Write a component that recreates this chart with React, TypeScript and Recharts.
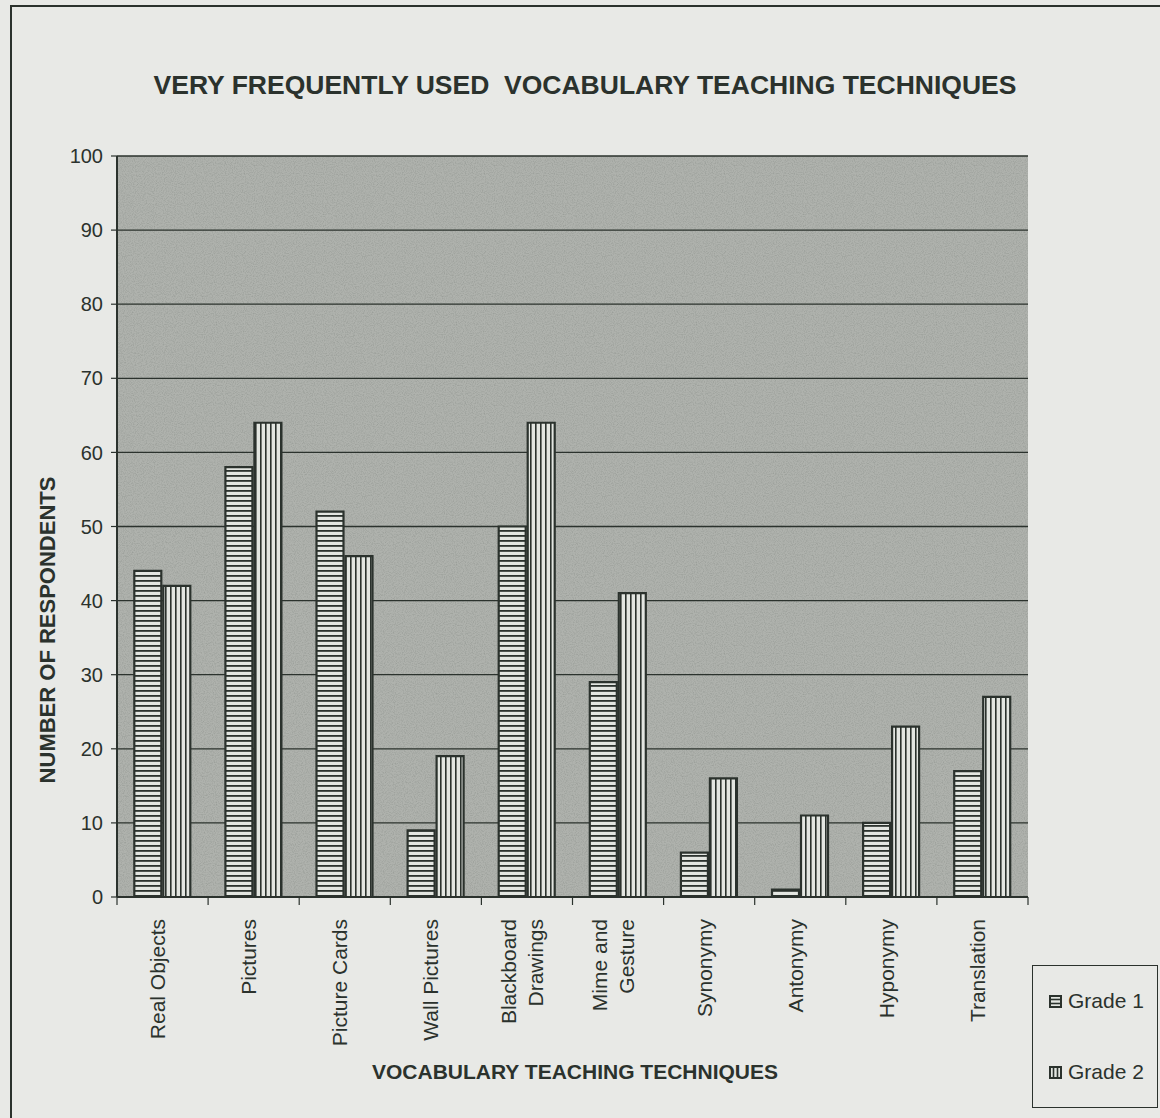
import React from 'react';
import { BarChart, Bar, XAxis, YAxis, CartesianGrid } from 'recharts';

const categories = [
  'Real Objects',
  'Pictures',
  'Picture Cards',
  'Wall Pictures',
  'Blackboard\nDrawings',
  'Mime and\nGesture',
  'Synonymy',
  'Antonymy',
  'Hyponymy',
  'Translation',
];
const grade1 = [44, 58, 52, 9, 50, 29, 6, 1, 10, 17];
const grade2 = [42, 64, 46, 19, 64, 41, 16, 11, 23, 27];
const seriesNames = ['Grade 1', 'Grade 2'];
const yTicks = [0, 10, 20, 30, 40, 50, 60, 70, 80, 90, 100];
const chartTitle = 'VERY FREQUENTLY USED  VOCABULARY TEACHING TECHNIQUES';
const yTitle = 'NUMBER OF RESPONDENTS';
const xTitle = 'VOCABULARY TEACHING TECHNIQUES';

const data = categories.map((c, i) => ({ name: c, g1: grade1[i], g2: grade2[i] }));

const INK = '#2b322d';
const PAGE = '#e8e9e6';
const PLOT = '#afb2ad';
const BARLIGHT = '#e3e6e1';
const FONT = '"Liberation Sans", Arial, Helvetica, sans-serif';

const CatTick = (props: any) => {
  const { x, y, payload, width, visibleTicksCount, index } = props;
  const lines = String(payload.value).split('\n');
  const n = lines.length;
  const bw = width && visibleTicksCount ? width / visibleTicksCount : 0;
  const cx = x - 5;
  return (
    <g>
      {bw > 0 && (
        <line x1={x + bw / 2} x2={x + bw / 2} y1={y} y2={y + 8} stroke={INK} strokeWidth={1.2} />
      )}
      {bw > 0 && index === 0 && (
        <line x1={x - bw / 2} x2={x - bw / 2} y1={y} y2={y + 8} stroke={INK} strokeWidth={1.2} />
      )}
      {lines.map((ln: string, i: number) => {
        const off = (i - (n - 1) / 2) * 27;
        return (
          <text
            key={i}
            transform={`translate(${cx + off},${y + 22}) rotate(-90)`}
            textAnchor="end"
            dominantBaseline="central"
            fontSize={21}
            fontFamily={FONT}
            fill={INK}
          >
            {ln}
          </text>
        );
      })}
    </g>
  );
};

const LegendIcon = ({ vertical }: { vertical: boolean }) => (
  <svg width={13} height={13} style={{ marginRight: 6 }}>
    <rect x={1} y={1} width={11} height={11} fill={BARLIGHT} stroke={INK} strokeWidth={2} />
    {vertical ? (
      <>
        <line x1={4.5} y1={1} x2={4.5} y2={12} stroke={INK} strokeWidth={1.6} />
        <line x1={8.5} y1={1} x2={8.5} y2={12} stroke={INK} strokeWidth={1.6} />
      </>
    ) : (
      <>
        <line x1={1} y1={4.5} x2={12} y2={4.5} stroke={INK} strokeWidth={1.6} />
        <line x1={1} y1={8.5} x2={12} y2={8.5} stroke={INK} strokeWidth={1.6} />
      </>
    )}
  </svg>
);

export default function App() {
  return (
    <div
      style={{
        position: 'absolute',
        left: 0,
        top: 0,
        width: 1160,
        height: 1118,
        background: PAGE,
        overflow: 'hidden',
        fontFamily: FONT,
        color: INK,
      }}
    >
      <div
        style={{
          position: 'absolute',
          left: 10,
          top: 5,
          width: 1200,
          height: 1200,
          borderLeft: `2px solid ${INK}`,
          borderTop: `2px solid ${INK}`,
        }}
      />
      <div
        style={{
          position: 'absolute',
          left: 585,
          top: 85,
          transform: 'translate(-50%, -50%)',
          whiteSpace: 'pre',
          fontSize: 26.5,
          fontWeight: 'bold',
          fontFamily: FONT,
        }}
      >
        {chartTitle}
      </div>
      <BarChart
        width={1160}
        height={1118}
        data={data}
        margin={{ top: 156, right: 132, bottom: 81, left: 57 }}
        barCategoryGap="19%"
        barGap={2}
        style={{ position: 'absolute', left: 0, top: 0 }}
      >
        <defs>
          <filter id="grain" x="0" y="0" width="100%" height="100%">
            <feTurbulence type="fractalNoise" baseFrequency="0.9" numOctaves={2} seed={3} result="t" />
            <feColorMatrix
              in="t"
              type="matrix"
              values="0 0 0 0 0.2  0 0 0 0 0.22  0 0 0 0 0.2  0 0 0 0.8 -0.32"
            />
          </filter>
          <pattern id="plotbg" patternUnits="userSpaceOnUse" width={240} height={240}>
            <rect x={0} y={0} width={240} height={240} fill={PLOT} />
            <rect x={0} y={0} width={240} height={240} filter="url(#grain)" />
          </pattern>
          <pattern id="hstripe" patternUnits="userSpaceOnUse" width={6} height={5}>
            <rect x={0} y={0} width={6} height={5} fill={BARLIGHT} />
            <rect x={0} y={0} width={6} height={1.8} fill={INK} />
          </pattern>
          <pattern id="vstripe" patternUnits="userSpaceOnUse" width={5} height={6}>
            <rect x={0} y={0} width={5} height={6} fill={BARLIGHT} />
            <rect x={0} y={0} width={1.6} height={6} fill={INK} />
          </pattern>
        </defs>
        <CartesianGrid
          xAxisId="cat"
          yAxisId="left"
          vertical={false}
          stroke={INK}
          strokeWidth={1.3}
          fill="url(#plotbg)"
          fillOpacity={1}
        />
        <XAxis
          xAxisId="cat"
          dataKey="name"
          type="category"
          height={140}
          interval={0}
          tickLine={false}
          tickSize={0}
          tickMargin={0}
          axisLine={{ stroke: INK, strokeWidth: 2 }}
          tick={CatTick}
        />
        <YAxis
          yAxisId="left"
          domain={[0, 100]}
          ticks={yTicks}
          width={60}
          interval={0}
          axisLine={{ stroke: INK, strokeWidth: 2 }}
          tickLine={{ stroke: INK, strokeWidth: 1.2 }}
          tickSize={6}
          tickMargin={8}
          tick={{ fontSize: 20, fill: INK, fontFamily: FONT }}
        />
        <YAxis
          yAxisId="right"
          orientation="right"
          domain={[0, 100]}
          width={0}
          tick={false}
          tickLine={false}
          axisLine={{ stroke: INK, strokeWidth: 2 }}
        />
        <Bar
          xAxisId="cat"
          yAxisId="left"
          dataKey="g1"
          name={seriesNames[0]}
          fill="url(#hstripe)"
          stroke={INK}
          strokeWidth={2.2}
          isAnimationActive={false}
        />
        <Bar
          xAxisId="cat"
          yAxisId="left"
          dataKey="g2"
          name={seriesNames[1]}
          fill="url(#vstripe)"
          stroke={INK}
          strokeWidth={2.2}
          isAnimationActive={false}
        />
      </BarChart>
      <div
        style={{
          position: 'absolute',
          left: 48,
          top: 630,
          transform: 'translate(-50%, -50%) rotate(-90deg)',
          whiteSpace: 'nowrap',
          fontSize: 22,
          fontWeight: 'bold',
        }}
      >
        {yTitle}
      </div>
      <div
        style={{
          position: 'absolute',
          left: 575,
          top: 1072,
          transform: 'translate(-50%, -50%)',
          whiteSpace: 'nowrap',
          fontSize: 21,
          fontWeight: 'bold',
        }}
      >
        {xTitle}
      </div>
      <div
        style={{
          position: 'absolute',
          left: 1032,
          top: 965,
          width: 126,
          height: 143,
          border: `1.5px solid ${INK}`,
          boxSizing: 'border-box',
          fontSize: 21,
        }}
      >
        {seriesNames.map((s, i) => (
          <div
            key={s}
            style={{
              position: 'absolute',
              left: 16,
              top: i === 0 ? 23 : 94,
              display: 'flex',
              alignItems: 'center',
              whiteSpace: 'nowrap',
            }}
          >
            <LegendIcon vertical={i === 1} />
            <span>{s}</span>
          </div>
        ))}
      </div>
    </div>
  );
}
